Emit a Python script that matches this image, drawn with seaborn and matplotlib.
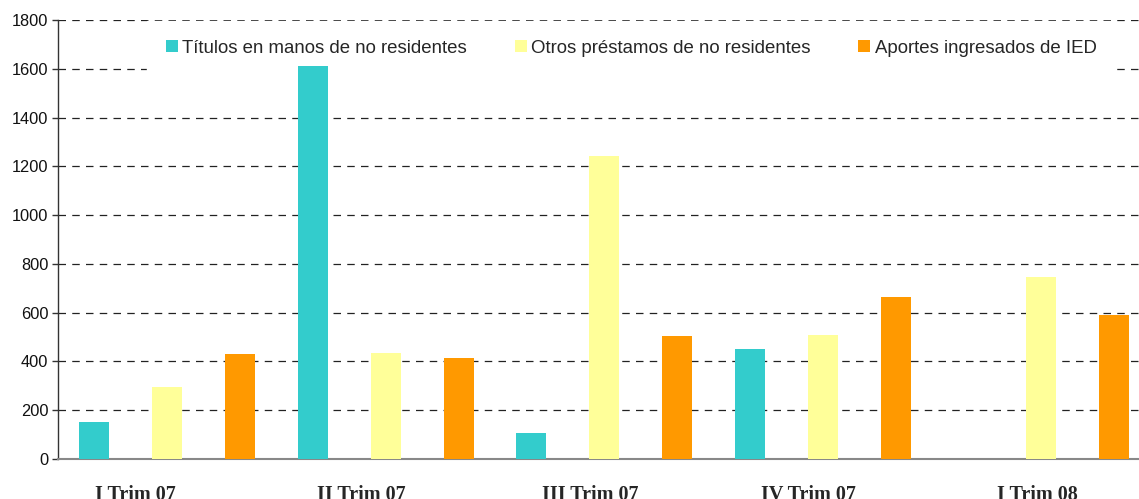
import matplotlib
matplotlib.use("Agg")
import matplotlib.pyplot as plt
import seaborn as sns
import pandas as pd
import numpy as np

categories = ["I Trim 07", "II Trim 07", "III Trim 07", "IV Trim 07", "I Trim 08"]
series = ["Títulos en manos de no residentes", "Otros préstamos de no residentes", "Aportes ingresados de IED"]
titulos = [152, 1611, 107, 451, 0]
otros = [296, 435, 1242, 508, 746]
aportes = [430, 414, 504, 664, 590]
colors = ["#33CCCC", "#FFFF99", "#FF9900"]
yticks = [0, 200, 400, 600, 800, 1000, 1200, 1400, 1600, 1800]

rows = []
for name, vals in zip(series, [titulos, otros, aportes]):
    for c, v in zip(categories, vals):
        rows.append({"cat": c, "serie": name, "valor": v})
df = pd.DataFrame(rows)

sns.set_style("white")
plt.rcParams["font.family"] = ["Liberation Sans", "DejaVu Sans"]

fig = plt.figure(figsize=(11.39, 4.99), dpi=100)
ax = fig.add_axes([58 / 1139, 1 - 459 / 499, 1092.5 / 1139, 439 / 499])

sns.barplot(data=df, x="cat", y="valor", hue="serie", order=categories, hue_order=series,
            palette=colors, width=1.0, gap=0.59, saturation=1.0, ax=ax, zorder=3,
            linewidth=0, edgecolor="none")

ax.set_ylim(0, 1800)
ax.set_xlim(-0.5, 4.5)
ax.set_yticks(yticks)
ax.set_yticklabels([str(v) for v in yticks], fontsize=11.8, color="#111111")
ax.yaxis.grid(True, color="#222222", linestyle=(0, (6, 5)), linewidth=0.9, zorder=0)
ax.set_axisbelow(True)

# category boundaries as tick marks, labels as minor ticks
ax.set_xticks(np.arange(-0.5, 5.0, 1.0))
ax.set_xticklabels([])
label_pos = [-0.146, 1 - 0.11, 2 - 0.064, 3 - 0.064, 4 - 0.018]
ax.set_xticks(label_pos, minor=True)
ax.set_xticklabels(categories, minor=True, fontsize=14.5, fontweight="bold",
                   family=["Liberation Serif", "DejaVu Serif"])
ax.tick_params(axis="x", which="minor", length=0, pad=19)
ax.tick_params(axis="x", which="major", length=4, width=1, color="#555555", direction="out")
ax.tick_params(axis="y", length=4, width=1, color="#333333", direction="out", left=True, pad=3)
ax.set_xlabel("")
ax.set_ylabel("")

for s in ["top", "right"]:
    ax.spines[s].set_visible(False)
ax.spines["left"].set_color("#333333")
ax.spines["bottom"].set_color("#888888")
ax.spines["left"].set_linewidth(1)
ax.spines["bottom"].set_linewidth(1.5)

leg = ax.legend(loc="center", bbox_to_anchor=(0.5245, 0.936), ncol=3, frameon=True,
                fontsize=13.4, handlelength=0.65, handleheight=0.65, handletextpad=0.22,
                columnspacing=2.58, borderpad=1.0, fancybox=False)
leg.get_frame().set_facecolor("white")
leg.get_frame().set_edgecolor("white")
leg.get_frame().set_alpha(1.0)
leg.set_zorder(2)

fig.savefig("out.png", dpi=100)
